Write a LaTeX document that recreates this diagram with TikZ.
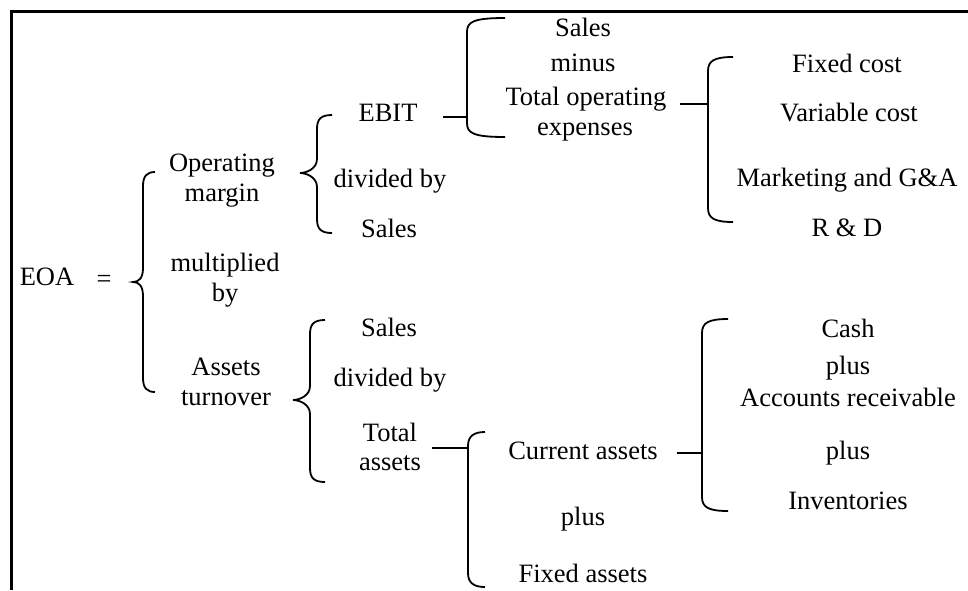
\documentclass[tikz,border=0pt]{standalone}
\usepackage{fontspec}
\setmainfont{Liberation Serif}

% Curly brace: #1 stem x, #2 end x, #3 tip x, #4 top y, #5 tip y, #6 bottom y
\newcommand\curlybrace[6]{%
  \draw[brk] (#2,#4) .. controls (#1+4,#4) and (#1,#4+4) .. (#1,#4+14)
    -- (#1,#5-14) .. controls (#1,#5-4) and (#3+6,#5) .. (#3,#5)
    .. controls (#3+6,#5) and (#1,#5+4) .. (#1,#5+14)
    -- (#1,#6-14) .. controls (#1,#6-4) and (#1+4,#6) .. (#2,#6);}
% Square bracket with rounded ends: #1 stem x, #2 end x, #3 top y, #4 bottom y
\newcommand\roundbracket[4]{%
  \draw[brk] (#2,#3) .. controls (#1+6,#3) and (#1,#3+4) .. (#1,#3+14)
    -- (#1,#4-14) .. controls (#1,#4-4) and (#1+6,#4) .. (#2,#4);}

\begin{document}
\begin{tikzpicture}[x=0.5pt, y=-0.5pt,
  lbl/.style={inner sep=0pt, text height=8.75pt, text depth=0pt,
              font=\fontsize{13.25}{16}\selectfont},
  brk/.style={line width=0.9pt},
  conn/.style={line width=0.9pt}]
\useasboundingbox (0,0) rectangle (968,590);

% frame edges
\draw[line width=1.5pt] (11,590) -- (11,11) -- (968,11);

% left-hand side
\node[lbl] (eoa) at (47,277) {EOA};
\node[lbl] (eq) at (104,279) {=};

% first level
\node[lbl] (opm1) at (222,163) {Operating};
\node[lbl] (opm2) at (222,193) {margin};
\node[lbl] (mul1) at (225,263) {multiplied};
\node[lbl] (mul2) at (225,293) {by};
\node[lbl] (at1) at (226,367) {Assets};
\node[lbl] (at2) at (226,397) {turnover};

% operating margin breakdown
\node[lbl] (ebit) at (388,113) {EBIT};
\node[lbl] (div1) at (390,179) {divided by};
\node[lbl] (sales1) at (389,229) {Sales};

% EBIT breakdown
\node[lbl] (sales2) at (583,28) {Sales};
\node[lbl] (minus) at (583,63) {minus};
\node[lbl] (toe1) at (586,97) {Total operating};
\node[lbl] (toe2) at (585,127) {expenses};

% operating expenses breakdown
\node[lbl] (fc) at (847,64) {Fixed cost};
\node[lbl] (vc) at (849,113) {Variable cost};
\node[lbl] (mga) at (847,178) {Marketing and G\&A};
\node[lbl] (rd) at (847,228) {R \& D};

% assets turnover breakdown
\node[lbl] (sales3) at (389,328) {Sales};
\node[lbl] (div2) at (390,378) {divided by};
\node[lbl] (ta1) at (390,433) {Total};
\node[lbl] (ta2) at (390,462) {assets};

% total assets breakdown
\node[lbl] (ca) at (583,451) {Current assets};
\node[lbl] (plus1) at (583,517) {plus};
\node[lbl] (fa) at (583,574) {Fixed assets};

% current assets breakdown
\node[lbl] (cash) at (848,329) {Cash};
\node[lbl] (plus2) at (848,366) {plus};
\node[lbl] (ar) at (848,398) {Accounts receivable};
\node[lbl] (plus3) at (848,451) {plus};
\node[lbl] (inv) at (848,501) {Inventories};

% braces and brackets
\curlybrace{143}{155}{133}{172}{282}{392}
\curlybrace{317}{332}{300}{115}{173}{233}
\curlybrace{310}{325}{293}{320}{400}{482}
\roundbracket{467}{505}{18}{137}
\roundbracket{708}{733}{57}{222}
\roundbracket{468}{485}{432}{587}
\roundbracket{702}{728}{319}{511}

% connectors from items to their brackets
\coordinate (ebitR) at (443,117);  \coordinate (b3in) at (467,117);
\coordinate (toeR) at (680,104);   \coordinate (b4in) at (708,104);
\coordinate (taR) at (432,448);    \coordinate (b5in) at (468,448);
\coordinate (caR) at (677,453);    \coordinate (b6in) at (702,453);
\draw[conn] (ebitR) -- (b3in);
\draw[conn] (toeR) -- (b4in);
\draw[conn] (taR) -- (b5in);
\draw[conn] (caR) -- (b6in);
\end{tikzpicture}
\end{document}
